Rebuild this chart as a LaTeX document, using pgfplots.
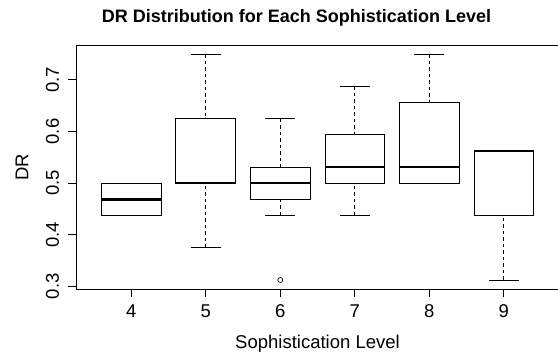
\documentclass[border=0pt]{standalone}
\usepackage{pgfplots}
\pgfplotsset{compat=1.18}
\usepgfplotslibrary{statistics}
\usepackage{fontspec}
\setmainfont{Liberation Sans}
\begin{document}
\begin{tikzpicture}[font=\fontsize{18.5bp}{21bp}\selectfont]
\useasboundingbox (-76bp,-64bp) rectangle (482bp,289bp);
\begin{axis}[
  scale only axis,
  width=483bp, height=244bp,
  xmin=0.26, xmax=6.74,
  ymin=0.295, ymax=0.7675,
  axis line style={black, line width=0.9bp},
  tick style={black, line width=0.9bp},
  tick align=outside,
  major tick length=7.5bp,
  xtick pos=left, ytick pos=left,
  xtick={1,2,3,4,5,6},
  xticklabels={4,5,6,7,8,9},
  ytick={0.3,0.4,0.5,0.6,0.7},
  /pgf/number format/assume math mode=true,
  yticklabel style={/pgf/number format/fixed, /pgf/number format/precision=1, /pgf/number format/fixed zerofill, rotate=90, anchor=center, yshift=16bp},
  xticklabel style={anchor=center, yshift=-15bp},
  every axis x label/.style={at={(axis description cs:0.5,0)}, anchor=base, yshift=-59bp},
  every axis y label/.style={at={(axis description cs:0,0.5)}, rotate=90, anchor=center, yshift=54bp},
  every axis title/.style={at={(axis description cs:0,1)}, anchor=base, xshift=220.5bp, yshift=22.3bp, font=\fontsize{18bp}{21bp}\selectfont\bfseries},
  title={DR Distribution for Each Sophistication Level},
  xlabel={Sophistication Level},
  ylabel={DR},
  boxplot/draw direction=y,
  boxplot/box extend=0.8,
  boxplot/whisker extend=0.4,
  boxplot/every median/.style={line width=2.7bp},
  boxplot/draw/lower whisker/.code={%
    \draw[dash pattern=on 3.5bp off 3bp]
      (boxplot box cs:\pgfplotsboxplotvalue{lower whisker},0.5)
      -- (boxplot box cs:\pgfplotsboxplotvalue{lower quartile},0.5);
    \draw (boxplot whisker cs:\pgfplotsboxplotvalue{lower whisker},0)
      -- (boxplot whisker cs:\pgfplotsboxplotvalue{lower whisker},1);
  },
  boxplot/draw/upper whisker/.code={%
    \draw[dash pattern=on 3.5bp off 3bp]
      (boxplot box cs:\pgfplotsboxplotvalue{upper whisker},0.5)
      -- (boxplot box cs:\pgfplotsboxplotvalue{upper quartile},0.5);
    \draw (boxplot whisker cs:\pgfplotsboxplotvalue{upper whisker},0)
      -- (boxplot whisker cs:\pgfplotsboxplotvalue{upper whisker},1);
  },
]
\addplot[black, line width=0.9bp, boxplot prepared={draw position=1, lower whisker=0.4375, lower quartile=0.4375, median=0.46875, upper quartile=0.5, upper whisker=0.5}] coordinates {};
\addplot[black, line width=0.9bp, boxplot prepared={draw position=2, lower whisker=0.375, lower quartile=0.5, median=0.5, upper quartile=0.625, upper whisker=0.75}] coordinates {};
\addplot[black, line width=0.9bp, mark=o, mark size=2.5bp, mark options={solid, line width=0.7bp}, boxplot prepared={draw position=3, lower whisker=0.4375, lower quartile=0.46875, median=0.5, upper quartile=0.53125, upper whisker=0.625}] coordinates {(0,0.3125)};
\addplot[black, line width=0.9bp, boxplot prepared={draw position=4, lower whisker=0.4375, lower quartile=0.5, median=0.53125, upper quartile=0.59375, upper whisker=0.6875}] coordinates {};
\addplot[black, line width=0.9bp, boxplot prepared={draw position=5, lower whisker=0.5, lower quartile=0.5, median=0.53125, upper quartile=0.65625, upper whisker=0.75}] coordinates {};
\addplot[black, line width=0.9bp, boxplot prepared={draw position=6, lower whisker=0.3125, lower quartile=0.4375, median=0.5625, upper quartile=0.5625, upper whisker=0.5625}] coordinates {};
\end{axis}
\end{tikzpicture}
\end{document}
